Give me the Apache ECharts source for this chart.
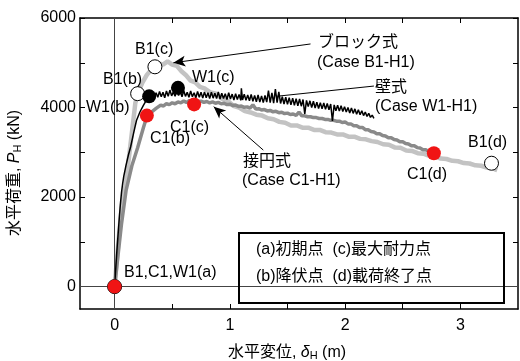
<!DOCTYPE html>
<html><head><meta charset="utf-8">
<script src="https://cdn.jsdelivr.net/npm/echarts@6/dist/echarts.min.js"></script>
<style>html,body{margin:0;padding:0;background:#fff}#c{width:520px;height:361px}</style>
</head><body><div id="c"></div>
<script>
// ---- data ----
const xTickValues = [0, 0.5, 1, 1.5, 2, 2.5, 3];
const xLabelValues = [0, 1, 2, 3];
const yTickValues = [0, 1000, 2000, 3000, 4000, 5000, 6000];
const yLabelValues = [0, 2000, 4000, 6000];

// Case B1-H1 (ブロック式)
const B1_curve = [[0,0],[0.03,900],[0.06,1750],[0.095,2250],[0.13,3000],[0.16,3650],[0.18,4100],[0.2,4300],[0.24,4550],[0.28,4730],[0.32,4850],[0.35,4920],[0.38,4990],[0.42,4960],[0.46,5030],[0.5,4960],[0.54,4930],[0.58,4810],[0.62,4720],[0.66,4600],[0.7,4560],[0.74,4460],[0.78,4430],[0.83,4340],[0.88,4310],[0.93,4200],[0.98,4150],[1.03,4040],[1.08,4000],[1.13,3920],[1.18,3890],[1.23,3840],[1.28,3820],[1.33,3760],[1.38,3740],[1.43,3680],[1.48,3660],[1.53,3600],[1.58,3600],[1.63,3550],[1.68,3550],[1.73,3500],[1.78,3500],[1.83,3450],[1.88,3440],[1.93,3400],[1.98,3400],[2.03,3350],[2.08,3350],[2.13,3300],[2.18,3290],[2.23,3250],[2.28,3230],[2.33,3180],[2.38,3170],[2.43,3110],[2.48,3100],[2.53,3040],[2.58,3030],[2.63,2980],[2.68,2970],[2.73,2920],[2.78,2910],[2.83,2860],[2.88,2850],[2.93,2810],[2.98,2800],[3.03,2760],[3.08,2750],[3.13,2710],[3.18,2700],[3.23,2660],[3.27,2680],[3.3,2620],[3.32,2600]];

// Case C1-H1 (接円式)
const C1_curve = [[0,0],[0.03,700],[0.06,1400],[0.1,2150],[0.15,2700],[0.2,3100],[0.25,3550],[0.28,3800],[0.32,3900],[0.36,3980],
[0.4,4055],[0.425,4035],[0.45,4085],[0.475,4065],[0.5,4105],[0.525,4085],[0.55,4125],[0.575,4105],[0.6,4145],[0.625,4115],[0.65,4155],[0.675,4125],[0.7,4155],[0.725,4125],[0.75,4145],[0.775,4115],[0.8,4135],[0.825,4105],[0.85,4125],[0.875,4095],[0.9,4115],[0.925,4085],[0.95,4095],[0.975,4065],[1.0,4075],[1.025,4045],[1.05,4055],[1.075,4025],[1.1,4035],[1.125,4005],[1.15,4015],[1.175,3985],[1.2,4060],[1.225,3965],[1.25,3975],[1.275,3945],[1.3,3955],[1.325,3925],[1.35,3935],[1.375,3905],[1.4,3915],[1.425,3885],[1.45,3895],[1.475,3865],[1.5,3875],[1.525,3845],[1.55,3855],[1.575,3825],[1.6,3900],[1.625,3815],[1.65,3815],[1.675,3795],[1.7,3795],[1.725,3775],[1.75,3775],[1.775,3755],[1.8,3755],[1.825,3735],[1.85,3735],[1.875,3715],[1.9,3715],[1.925,3695],[1.95,3695],[1.975,3665],[2.0,3675],[2.025,3635],[2.05,3635],[2.075,3595],[2.1,3595],[2.125,3555],[2.15,3555],[2.175,3505],[2.2,3505],[2.225,3465],[2.25,3455],[2.275,3415],[2.3,3415],[2.325,3375],[2.35,3365],[2.375,3325],[2.4,3325],[2.425,3285],[2.45,3275],[2.475,3235],[2.5,3235],[2.525,3195],[2.55,3185],[2.575,3145],[2.6,3145],[2.625,3105],[2.65,3095],[2.675,3055],[2.7,3055],[2.725,3015],[2.75,3005],[2.77,2975]];

// Case W1-H1 (壁式)
const W1_curve = [[0,0],[0.01,400],[0.02,800],[0.03,1150],[0.04,1500],[0.05,1830],[0.06,2100],[0.07,2300],[0.08,2470],[0.1,2720],[0.12,2940],[0.14,3130],[0.165,3430],[0.19,3710],[0.22,3900],[0.25,4050],[0.28,4180],
[0.3,4240],[0.315,4180],[0.33,4310],[0.345,4200],[0.36,4330],[0.375,4230],[0.39,4360],[0.405,4240],[0.42,4340],[0.435,4220],[0.45,4370],[0.465,4250],[0.48,4390],[0.495,4260],[0.51,4350],[0.525,4250],[0.54,4400],[0.555,4270],[0.57,4360],[0.585,4240],[0.6,4380],[0.615,4250],[0.63,4340],[0.645,4230],[0.66,4370],[0.675,4240],[0.69,4330],[0.705,4220],[0.72,4360],[0.735,4230],[0.75,4340],[0.765,4210],[0.78,4350],[0.795,4220],[0.81,4330],[0.825,4200],[0.84,4340],[0.855,4210],[0.87,4320],[0.885,4200],[0.9,4350],[0.915,4190],[0.93,4320],[0.945,4200],[0.96,4310],[0.975,4180],[0.99,4330],[1.005,4190],[1.02,4300],[1.035,4170],[1.05,4310],[1.065,4180],[1.08,4290],[1.095,4160],[1.1,4430],[1.11,4170],[1.125,4300],[1.14,4160],[1.155,4280],[1.17,4150],[1.185,4290],[1.2,4140],[1.215,4270],[1.23,4130],[1.245,4280],[1.26,4120],[1.275,4260],[1.29,4110],[1.305,4270],[1.32,4120],[1.335,4380],[1.35,4110],[1.365,4330],[1.38,4100],[1.395,4410],[1.41,4110],[1.425,4350],[1.44,4090],[1.455,4240],[1.47,4080],[1.485,4230],[1.5,4070],[1.515,4220],[1.53,4060],[1.545,4210],[1.56,4050],[1.575,4200],[1.59,4040],[1.605,4190],[1.62,4030],[1.635,4180],[1.65,3860],[1.665,4160],[1.68,4020],[1.695,4150],[1.71,4000],[1.725,4140],[1.74,3990],[1.755,4120],[1.77,3980],[1.785,4110],[1.8,3970],[1.815,4100],[1.83,3960],[1.845,4090],[1.86,3950],[1.875,4080],[1.89,3700],[1.905,4060],[1.92,3930],[1.935,4050],[1.95,3920],[1.965,4040],[1.98,3910],[1.995,4020],[2.01,3900],[2.025,4000],[2.04,3880],[2.055,3990],[2.07,3870],[2.085,3970],[2.1,3850],[2.115,3950],[2.13,3840],[2.145,3930],[2.16,3820],[2.175,3900],[2.19,3800],[2.205,3870],[2.22,3780],[2.235,3830],[2.25,3760]];

// characteristic points (a)(b)(c)(d)
const B1_points = [[0,0],[0.2,4310],[0.35,4910],[3.27,2756]];
const W1_points = [[0,0],[0.3,4250],[0.55,4440]];
const C1_points = [[0,0],[0.28,3820],[0.69,4070],[2.77,2980]];

// ---- chart ----
const FONT = "'Liberation Sans', Arial, 'Noto Sans CJK JP', sans-serif";
const chart = echarts.init(document.getElementById('c'), null, {renderer:'canvas'});

function xAx(pos, showLabel){
  return {type:'value', min:-0.3, max:3.5, position:pos,
    axisLine:{show:true, onZero:false, lineStyle:{color:'#000', width:1.5}},
    axisTick:{show:true, inside:true, length:5, customValues:xTickValues, lineStyle:{color:'#000'}},
    axisLabel:{show:showLabel, customValues:xLabelValues, fontSize:16, color:'#000', fontFamily:FONT, margin:9,
      formatter:function(v){return String(v);}},
    splitLine:{show:false}};
}
function yAx(pos, showLabel){
  return {type:'value', min:-500, max:6000, position:pos,
    axisLine:{show:true, onZero:false, lineStyle:{color:'#000', width:1.5}},
    axisTick:{show:true, inside:true, length:5, customValues:yTickValues, lineStyle:{color:'#000'}},
    axisLabel:{show:showLabel, customValues:yLabelValues, fontSize:16, color:'#000', fontFamily:FONT, margin:4,
      formatter:function(v){return String(v);}},
    splitLine:{show:false}};
}

const lbl = {fontSize:16, fill:'#000', fontFamily:FONT};
function txt(x, y, s, align){
  return {type:'text', x:x, y:y, z:100, style:Object.assign({text:s, align:align||'left', verticalAlign:'middle'}, lbl)};
}

chart.setOption({
  animation:false,
  backgroundColor:'#fff',
  textStyle:{fontFamily:FONT},
  grid:{left:80, right:2, top:18, bottom:52},
  xAxis:[xAx('bottom', true), xAx('top', false)],
  yAxis:[yAx('left', true), yAx('right', false)],
  series:[
    {type:'line', name:'B1', data:B1_curve, showSymbol:false, symbol:'none', lineStyle:{color:'#c3c3c3', width:4.5}, z:2,
      markLine:{silent:true, symbol:'none', label:{show:false}, lineStyle:{color:'#444', width:1, type:'solid'},
        data:[{xAxis:0},{yAxis:0}]}},
    {type:'line', name:'C1', data:C1_curve, showSymbol:false, symbol:'none', lineStyle:{color:'#8a8a8a', width:3.5}, z:3},
    {type:'line', name:'W1', data:W1_curve, showSymbol:false, symbol:'none', lineStyle:{color:'#000', width:1.5}, z:4,
      markLine:{silent:true, label:{show:false}, lineStyle:{color:'#000', width:1, type:'solid', opacity:1},
        symbol:['none','arrow'], symbolSize:[8,12],
        data:[
          [{coord:[1.70,5420]},{coord:[0.51,5000]}],
          [{coord:[2.25,4480]},{coord:[1.40,4250], symbol:'none'}],
          [{coord:[1.29,3050]},{coord:[0.86,4020]}]
        ]}},
    {type:'scatter', name:'B1 pts', data:B1_points, symbol:'circle', symbolSize:14, z:5,
      itemStyle:{color:'#fff', borderColor:'#000', borderWidth:1, opacity:1}},
    {type:'scatter', name:'W1 pts', data:W1_points, symbol:'circle', symbolSize:14, z:6,
      itemStyle:{color:'#000', opacity:1}},
    {type:'scatter', name:'C1 pts', data:C1_points, symbol:'circle', symbolSize:14, z:7,
      itemStyle:{color:'#f01414', opacity:1}}
  ],
  graphic:[
    txt(135, 50, 'B1(c)'),
    txt(103, 80, 'B1(b)'),
    txt(86, 108, 'W1(b)'),
    txt(192, 78, 'W1(c)'),
    txt(170, 128, 'C1(c)'),
    txt(150, 139, 'C1(b)'),
    txt(407, 175, 'C1(d)'),
    txt(468, 143, 'B1(d)'),
    txt(124, 273, 'B1,C1,W1(a)'),
    txt(318, 43, 'ブロック式'),
    txt(317, 63, '(Case B1-H1)'),
    txt(375, 88, '壁式'),
    txt(375, 107, '(Case W1-H1)'),
    txt(243, 162, '接円式'),
    txt(242, 181, '(Case C1-H1)'),
    {type:'rect', shape:{x:239, y:233, width:265, height:70}, z:90,
      style:{fill:'none', stroke:'#000', lineWidth:2}},
    txt(256, 250, '(a)初期点  (c)最大耐力点'),
    txt(256, 277, '(b)降伏点  (d)載荷終了点'),
    {type:'text', x:287, y:353, z:100, style:{
      text:'{n|水平変位, }{i|δ}{s|H}{n| (m)}', align:'center', verticalAlign:'middle',
      rich:{n:{fontSize:16, fontFamily:FONT, fill:'#000'}, i:{fontSize:16, fontStyle:'italic', fontFamily:FONT, fill:'#000'},
            s:{fontSize:11, fontFamily:FONT, fill:'#000', verticalAlign:'bottom', padding:[6,0,0,0]}}}},
    {type:'text', x:15, y:173, rotation:Math.PI/2, z:100, style:{
      text:'{n|水平荷重, }{i|P}{s|H}{n| (kN)}', align:'center', verticalAlign:'middle',
      rich:{n:{fontSize:16, fontFamily:FONT, fill:'#000'}, i:{fontSize:16, fontStyle:'italic', fontFamily:FONT, fill:'#000'},
            s:{fontSize:11, fontFamily:FONT, fill:'#000', verticalAlign:'bottom', padding:[6,0,0,0]}}}}
  ]
});
</script></body></html>
